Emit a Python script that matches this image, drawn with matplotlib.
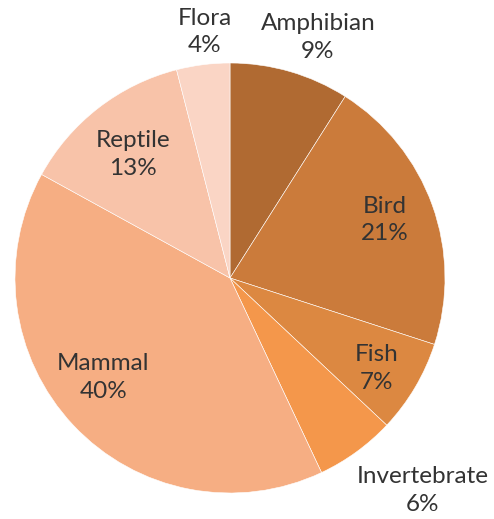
import numpy as np
import matplotlib.pyplot as plt

# Data
categories = ['Amphibian', 'Bird', 'Fish', 'Invertebrate', 'Mammal', 'Reptile', 'Flora']
shares = [9, 21, 7, 6, 40, 13, 4]
colors = ['#B06A32', '#CB7B3B', '#DC8841', '#F4974B', '#F6AE83', '#F8C3A9', '#FAD5C5']

# label placement: radial distance (fraction of radius) and angle tweak in degrees
label_dist = [1.19, 0.77, 0.80, 1.336, 0.75, 0.73, 1.15]
label_shift = [-3.9, 0.7, -1.0, 6.2, -5.0, 0.2, -1.4]

fig = plt.figure(figsize=(4.94, 5.19), dpi=100)
ax = fig.add_axes([15 / 494, 26 / 519, 430 / 494, 430 / 519])

wedges, _ = ax.pie(shares, colors=colors, startangle=90, counterclock=False,
                   radius=1.0, wedgeprops=dict(edgecolor='#ffffff', linewidth=0.4))

for w, name, pct, d, s in zip(wedges, categories, shares, label_dist, label_shift):
    mid = np.deg2rad((w.theta1 + w.theta2) / 2 + s)
    ax.text(d * np.cos(mid), d * np.sin(mid), f"{name}\n{pct}%",
            ha='center', va='center', fontsize=17.5, family='Lato',
            color='#333333', linespacing=1.4)

ax.set_xlim(-1, 1)
ax.set_ylim(-1, 1)
ax.axis('off')

fig.savefig('out.png', dpi=100, facecolor='white')
